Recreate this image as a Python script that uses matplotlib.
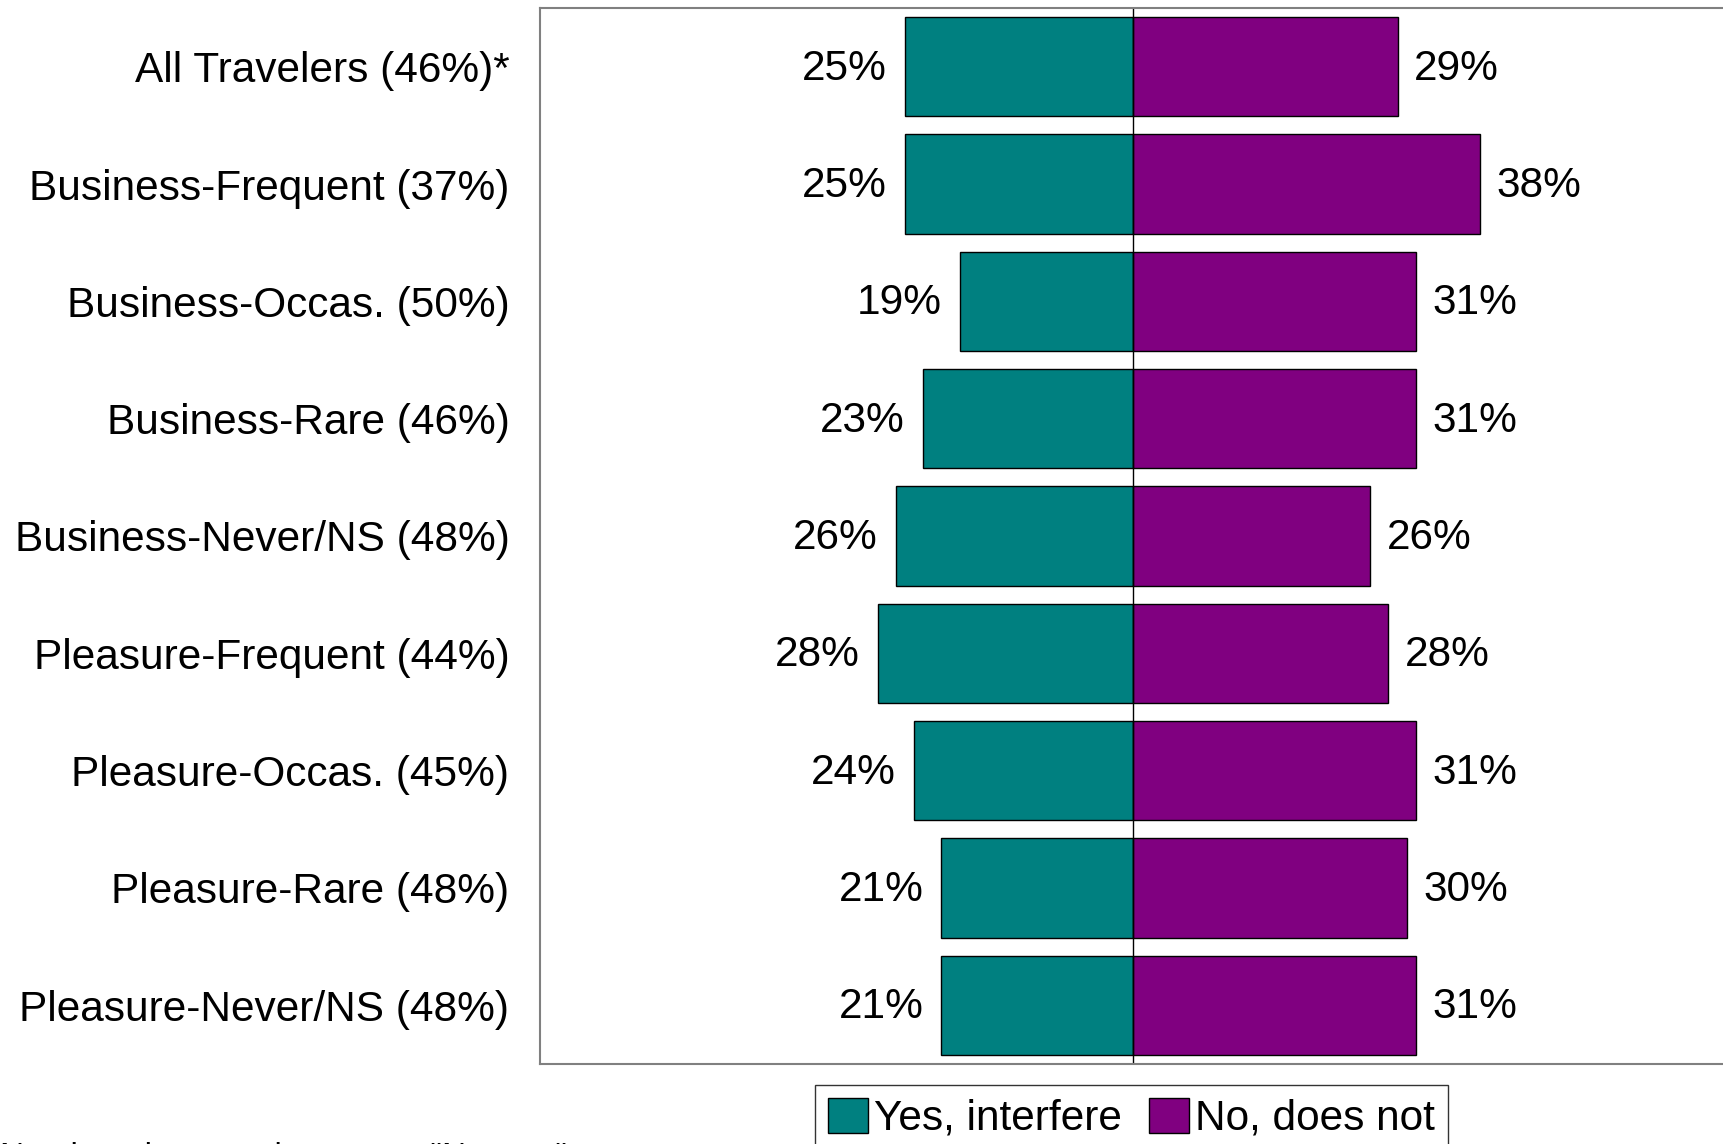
import matplotlib
matplotlib.use('Agg')
import matplotlib.pyplot as plt
import numpy as np

plt.rcParams['font.family'] = ['Liberation Sans', 'DejaVu Sans']

# data
groups = ['All Travelers (46%)*', 'Business-Frequent (37%)', 'Business-Occas. (50%)',
          'Business-Rare (46%)', 'Business-Never/NS (48%)', 'Pleasure-Frequent (44%)',
          'Pleasure-Occas. (45%)', 'Pleasure-Rare (48%)', 'Pleasure-Never/NS (48%)']
yes_interfere = [25, 25, 19, 23, 26, 28, 24, 21, 21]
no_does_not = [29, 38, 31, 31, 26, 28, 31, 30, 31]

teal = '#008080'
purple = '#800080'
fs = 30.5

fig = plt.figure(figsize=(17.24, 11.44), dpi=100)
ax = fig.add_axes([540 / 1724, 80 / 1144, 1186 / 1724, 1056 / 1144])

y = np.arange(len(groups))
yes_vals = -np.array(yes_interfere)
ax.barh(y, yes_vals, height=0.845, color=teal, edgecolor='black', linewidth=1.0,
        label='Yes, interfere')
ax.barh(y, no_does_not, height=0.845, color=purple, edgecolor='black', linewidth=1.0,
        label='No, does not')
ax.axvline(0, color='black', linewidth=1.0)

for i in range(len(groups)):
    ax.annotate(f"{yes_interfere[i]}%", (yes_vals[i], y[i]), xytext=(-13, -1.5),
                textcoords='offset points', ha='right', va='center', fontsize=fs)
    ax.annotate(f"{no_does_not[i]}%", (no_does_not[i], y[i]), xytext=(12, -1.5),
                textcoords='offset points', ha='left', va='center', fontsize=fs)

ax.set_xlim(-65, 65)
ax.set_ylim(len(groups) - 0.5, -0.5)
ax.set_xticks([])
ax.set_yticks(y)
ax.set_yticklabels(groups, fontsize=fs)
ax.tick_params(axis='y', length=0, pad=22)
for s in ax.spines.values():
    s.set_color('#808080')
    s.set_linewidth(1.5)

leg = fig.legend(loc='upper left', bbox_to_anchor=(815 / 1724, 1 - 1085 / 1144),
                 ncol=2, fontsize=fs, frameon=True, fancybox=False, borderaxespad=0,
                 handlelength=0.94, handleheight=0.9, handletextpad=0.15,
                 columnspacing=0.65, borderpad=0.3)
leg.get_frame().set_edgecolor('black')
leg.get_frame().set_linewidth(1.0)

fig.text(0.0, 1 - 1166 / 1144, 'Numbers in parentheses are "Net yes"',
         fontsize=24, ha='left', va='baseline')

fig.savefig('out.png', dpi=100)
